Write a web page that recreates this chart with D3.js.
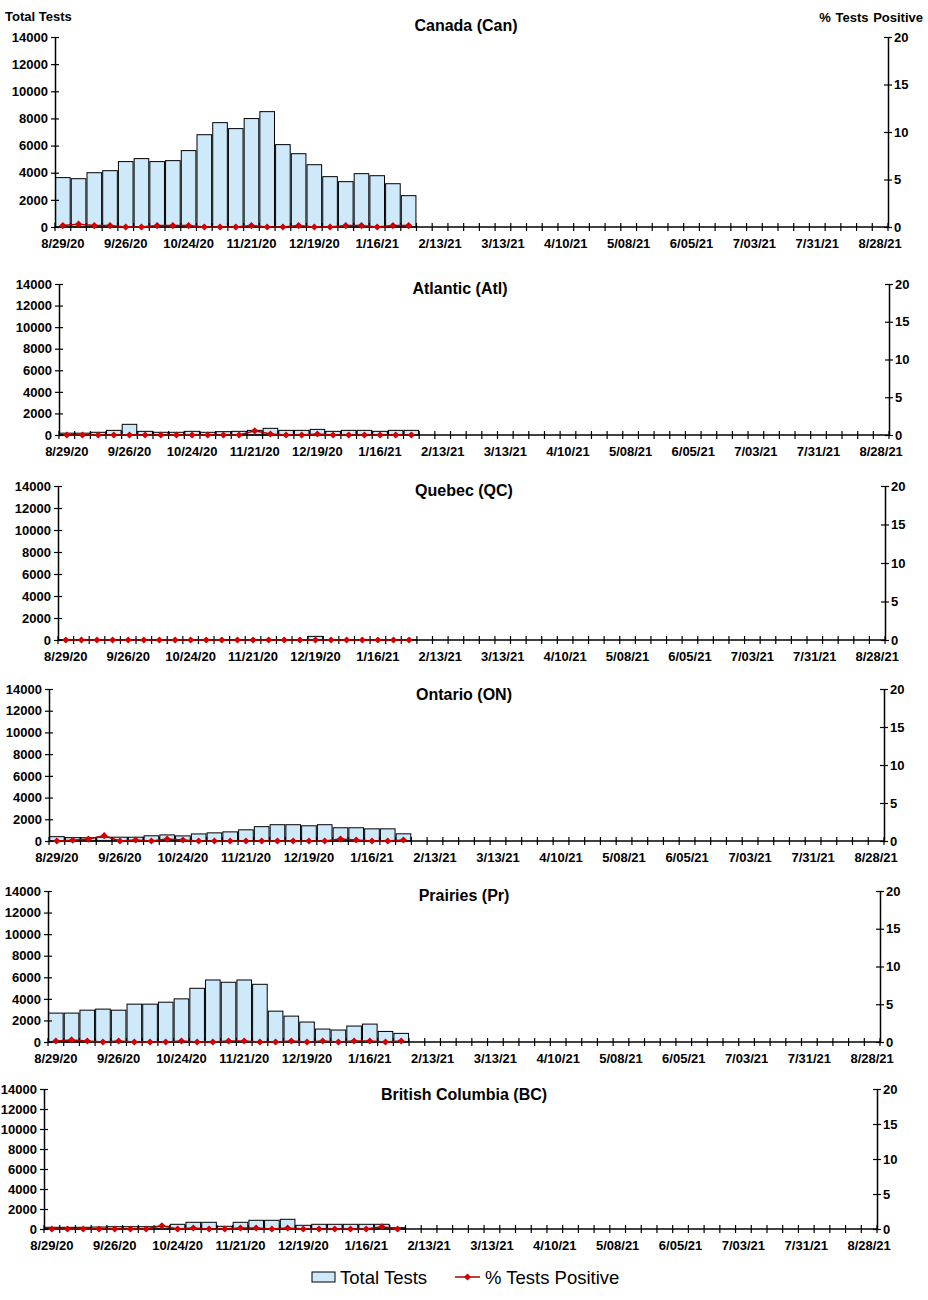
<!DOCTYPE html>
<html>
<head>
<meta charset="utf-8">
<script src="https://cdn.jsdelivr.net/npm/d3@7"></script>
<style>
  html, body { margin: 0; padding: 0; background: #fff; }
  svg { display: block; }
  text { font-family: "Liberation Sans", Arial, sans-serif; }
</style>
</head>
<body>
<div id="chart"></div>
<script>
// ---------- DATA ----------
const weeks = ["8/29/20","9/05/20","9/12/20","9/19/20","9/26/20","10/03/20","10/10/20","10/17/20","10/24/20","10/31/20",
  "11/07/20","11/14/20","11/21/20","11/28/20","12/05/20","12/12/20","12/19/20","12/26/20","1/02/21","1/09/21",
  "1/16/21","1/23/21","1/30/21","2/06/21","2/13/21","2/20/21","2/27/21","3/06/21","3/13/21","3/20/21",
  "3/27/21","4/03/21","4/10/21","4/17/21","4/24/21","5/01/21","5/08/21","5/15/21","5/22/21","5/29/21",
  "6/05/21","6/12/21","6/19/21","6/26/21","7/03/21","7/10/21","7/17/21","7/24/21","7/31/21","8/07/21",
  "8/14/21","8/21/21","8/28/21"];
const xTickLabels = ["8/29/20","9/26/20","10/24/20","11/21/20","12/19/20","1/16/21","2/13/21","3/13/21",
  "4/10/21","5/08/21","6/05/21","7/03/21","7/31/21","8/28/21"];
const testTicks = [0,2000,4000,6000,8000,10000,12000,14000];
const posTicks = [0,5,10,15,20];

const canTests = [3640,3560,4000,4150,4820,5040,4820,4890,5630,6800,7690,7250,7990,8500,6070,5400,4590,3710,3340,3930,3780,3190,2310];
const canPos   = [0.15,0.3,0.15,0.15,0,0,0.15,0.15,0.15,0,0,0,0.15,0,0,0.15,0,0,0.15,0.15,0,0.15,0.15];

const atlTests = [170,170,250,430,990,340,250,250,340,250,310,340,430,620,430,430,520,340,430,430,340,430,430];
const atlPos   = [0,0,0,0,0,0,0,0,0,0,0,0,0.55,0.13,0,0,0.13,0,0,0,0,0,0];

const qcTests  = [20,20,20,20,20,20,20,20,20,20,20,20,20,20,20,20,330,20,20,20,20,20,20];
const qcPos    = [0,0,0,0,0,0,0,0,0,0,0,0,0,0,0,0,0,0,0,0,0,0,0];

const onTests  = [400,310,300,350,350,350,480,560,470,650,750,840,1030,1320,1500,1500,1400,1500,1220,1220,1120,1120,660];
const onPos    = [0,0.1,0.25,0.7,0,0.13,0,0.25,0.13,0,0,0,0,0,0,0,0,0,0.25,0.13,0,0,0.13];

const prTests  = [2680,2680,2950,3050,2950,3510,3510,3690,4000,4980,5750,5540,5750,5350,2860,2400,1850,1200,1110,1480,1660,980,800];
const prPos    = [0.13,0.27,0.13,0,0.13,0,0,0,0.13,0,0,0.13,0.13,0,0,0.13,0,0.13,0,0.13,0.13,0,0.13];

const bcTests  = [170,170,170,200,230,230,230,270,470,670,670,270,670,870,870,970,370,470,470,470,470,470,130];
const bcPos    = [0,0,0,0,0,0,0,0.45,0,0.14,0,0,0.14,0.14,0,0.14,0,0,0,0,0,0.32,0];

// ---------- LAYOUT ----------
const panels = [
  {title:"Canada (Can)",            tests:canTests, pos:canPos, L:55, R:888, T:37,   B:227,  tx:466, ty:31},
  {title:"Atlantic (Atl)",          tests:atlTests, pos:atlPos, L:59, R:889, T:284,  B:435,  tx:460, ty:294},
  {title:"Quebec (QC)",             tests:qcTests,  pos:qcPos,  L:58, R:885, T:486,  B:640,  tx:464, ty:496},
  {title:"Ontario (ON)",            tests:onTests,  pos:onPos,  L:49, R:884, T:689,  B:841,  tx:464, ty:700},
  {title:"Prairies (Pr)",           tests:prTests,  pos:prPos,  L:48, R:880, T:891,  B:1042, tx:464, ty:901},
  {title:"British Columbia (BC)",   tests:bcTests,  pos:bcPos,  L:44, R:877, T:1089, B:1229, tx:464, ty:1100}
];

const W = 928, H = 1300;
const barFill = "#cde9fa";
const lineColor = "#b00000";
const markColor = "#d40000";
const FONT = "bold 13px 'Liberation Sans', Arial, sans-serif";
const diamond = "M0,-3.6L3.6,0L0,3.6L-3.6,0Z";

const svg = d3.select("#chart").append("svg").attr("width", W).attr("height", H);

// headers
svg.append("text").attr("x", 5).attr("y", 21).style("font", FONT).text("Total Tests");
svg.append("text").attr("x", 923).attr("y", 22).attr("text-anchor", "end").style("font", FONT)
  .attr("word-spacing", "1px").text("% Tests Positive");

panels.forEach(p => {
  const g = svg.append("g");
  const x = d3.scaleBand().domain(weeks).range([p.L, p.R]).padding(0);
  const xb = d3.scaleBand().domain(weeks).range([p.L, p.R]).paddingInner(0.07).paddingOuter(0.035);
  const y = d3.scaleLinear().domain([0, 14000]).range([p.B, p.T]);
  const y2 = d3.scaleLinear().domain([0, 20]).range([p.B, p.T]);
  const bars = p.tests.map((v, i) => ({week: weeks[i], v}));
  const pts = p.pos.map((v, i) => ({week: weeks[i], v}));

  // bars
  g.selectAll("rect.bar").data(bars).join("rect")
    .attr("class", "bar")
    .attr("x", d => xb(d.week))
    .attr("width", xb.bandwidth())
    .attr("y", d => y(d.v))
    .attr("height", d => y(0) - y(d.v))
    .attr("fill", barFill).attr("stroke", "#000").attr("stroke-width", 1);

  // left axis
  const ax = g.append("g").attr("transform", `translate(${p.L},0)`)
    .call(d3.axisLeft(y).tickValues(testTicks).tickFormat(d3.format("d")).tickSize(4).tickSizeOuter(0).tickPadding(3));
  ax.select(".domain").attr("stroke-width", 1.5);
  ax.selectAll(".tick line").attr("x1", 4).attr("stroke-width", 1.2);
  ax.selectAll(".tick text").style("font", FONT).attr("fill", "#000");

  // right axis
  const ax2 = g.append("g").attr("transform", `translate(${p.R},0)`)
    .call(d3.axisRight(y2).tickValues(posTicks).tickSize(4).tickSizeOuter(0).tickPadding(2));
  ax2.select(".domain").attr("stroke-width", 1.5);
  ax2.selectAll(".tick line").attr("x1", -4).attr("stroke-width", 1.2);
  ax2.selectAll(".tick text").style("font", FONT).attr("fill", "#000");

  // x axis
  g.append("line").attr("x1", p.L).attr("x2", p.R).attr("y1", p.B).attr("y2", p.B)
    .attr("stroke", "#000").attr("stroke-width", 1.5);
  const bounds = weeks.map(w => x(w)).concat([p.R]);
  g.selectAll("line.xt").data(bounds).join("line").attr("class", "xt")
    .attr("x1", d => d).attr("x2", d => d).attr("y1", p.B - 4).attr("y2", p.B + 4)
    .attr("stroke", "#000").attr("stroke-width", 1.2);
  g.selectAll("text.xl").data(xTickLabels).join("text").attr("class", "xl")
    .attr("x", d => x(d) + x.bandwidth() / 2).attr("y", p.B + 21)
    .attr("text-anchor", "middle").style("font", FONT).text(d => d);

  // line + markers
  const line = d3.line().x(d => x(d.week) + x.bandwidth() / 2).y(d => y2(d.v));
  g.append("path").datum(pts).attr("d", line).attr("fill", "none")
    .attr("stroke", lineColor).attr("stroke-width", 1.5);
  g.selectAll("path.mk").data(pts).join("path").attr("class", "mk")
    .attr("d", diamond)
    .attr("transform", d => `translate(${x(d.week) + x.bandwidth() / 2},${y2(d.v)})`)
    .attr("fill", markColor);

  // title
  g.append("text").attr("x", p.tx).attr("y", p.ty).attr("text-anchor", "middle")
    .style("font", "bold 16px 'Liberation Sans', Arial, sans-serif").text(p.title);
});

// legend
const lg = svg.append("g");
lg.append("rect").attr("x", 312).attr("y", 1272).attr("width", 23).attr("height", 10)
  .attr("fill", barFill).attr("stroke", "#000").attr("stroke-width", 1);
lg.append("text").attr("x", 340).attr("y", 1284)
  .style("font", "18.5px 'Liberation Sans', Arial, sans-serif").text("Total Tests");
lg.append("line").attr("x1", 455).attr("x2", 480).attr("y1", 1277).attr("y2", 1277)
  .attr("stroke", lineColor).attr("stroke-width", 1.5);
lg.append("path").attr("d", diamond).attr("transform", "translate(467.5,1277)").attr("fill", markColor);
lg.append("text").attr("x", 485).attr("y", 1284)
  .style("font", "18.5px 'Liberation Sans', Arial, sans-serif").text("% Tests Positive");
</script>
</body>
</html>
